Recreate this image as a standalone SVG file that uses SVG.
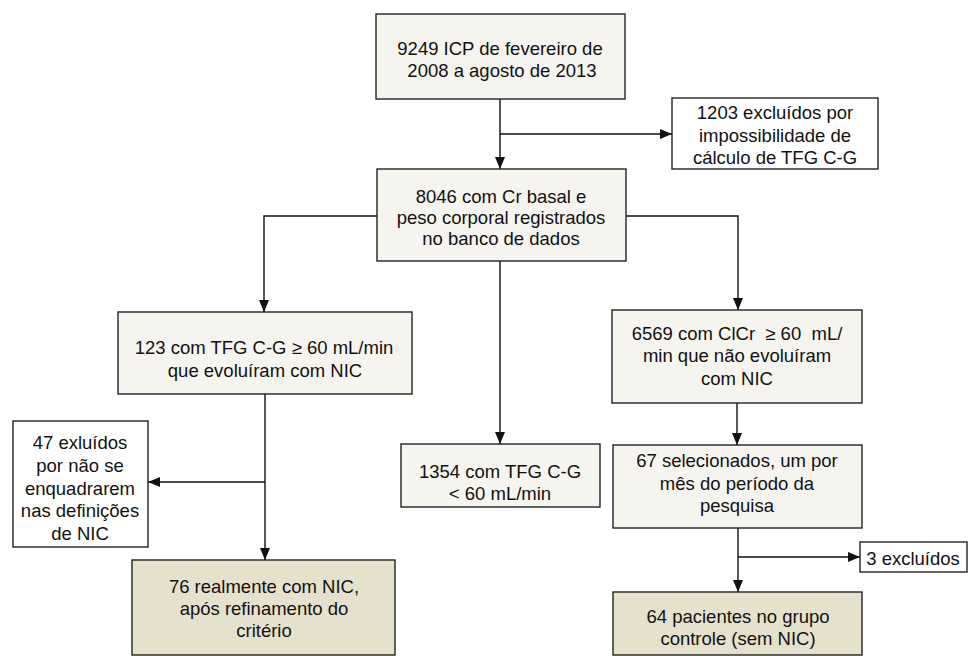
<svg xmlns="http://www.w3.org/2000/svg" width="968" height="656" viewBox="0 0 968 656">
<style>
.b{fill:#f6f4ee;stroke:#222;stroke-width:1.4}
.d{fill:#e6e1cd;stroke:#222;stroke-width:1.4}
.w{fill:#fff;stroke:#222;stroke-width:1.4}
text{font-family:"Liberation Sans",Arial,Helvetica,sans-serif;font-size:18.5px;fill:#111;text-anchor:middle;white-space:pre}
.c line,.c polyline{fill:none;stroke:#111;stroke-width:1.4}
</style>
<defs>
<marker id="ah" viewBox="0 0 12 12" refX="12" refY="6" markerWidth="12" markerHeight="12" markerUnits="userSpaceOnUse" orient="auto">
<path d="M0,1 L12,6 L0,11 Z" fill="#111"/>
</marker>
</defs>
<rect width="968" height="656" fill="#fff"/>
<g class="c">
<line x1="500" y1="99" x2="500" y2="169" marker-end="url(#ah)"/>
<line x1="500" y1="134" x2="672" y2="134" marker-end="url(#ah)"/>
<polyline points="377,216 264,216 264,312" marker-end="url(#ah)"/>
<polyline points="626,216 738,216 738,310" marker-end="url(#ah)"/>
<line x1="500" y1="261" x2="500" y2="444" marker-end="url(#ah)"/>
<line x1="265" y1="394" x2="265" y2="560" marker-end="url(#ah)"/>
<line x1="265" y1="482" x2="148" y2="482" marker-end="url(#ah)"/>
<line x1="737" y1="403" x2="737" y2="445" marker-end="url(#ah)"/>
<line x1="738" y1="528" x2="738" y2="592" marker-end="url(#ah)"/>
<line x1="738" y1="557" x2="860" y2="557" marker-end="url(#ah)"/>
</g>
<g id="n1"><rect class="b" x="376" y="14" width="249" height="85"/>
<text x="500" y="55">9249 ICP de fevereiro de</text><text x="502" y="77">2008 a agosto de 2013</text></g>
<g id="n2"><rect class="w" x="672" y="98" width="206" height="71"/>
<text x="775" y="119">1203 excluídos por</text><text x="775" y="142">impossibilidade de</text><text x="775" y="164">cálculo de TFG C-G</text></g>
<g id="n3"><rect class="b" x="377" y="169" width="249" height="92"/>
<text x="501" y="203">8046 com Cr basal e</text><text x="501" y="224">peso corporal registrados</text><text x="501" y="245">no banco de dados</text></g>
<g id="n4"><rect class="b" x="118" y="312" width="294" height="82"/>
<text x="264" y="354">123 com TFG C-G ≥ 60 mL/min</text><text x="265" y="377">que evoluíram com NIC</text></g>
<g id="n5"><rect class="b" x="612" y="310" width="250" height="93"/>
<text x="737" y="340">6569 com ClCr  ≥ 60  mL/</text><text x="737" y="362">min que não evoluíram</text><text x="737" y="385">com NIC</text></g>
<g id="n6"><rect class="w" x="13" y="421" width="135" height="126"/>
<text x="80" y="449">47 exluídos</text><text x="80" y="472">por não se</text><text x="80" y="495">enquadrarem</text><text x="80" y="517">nas definições</text><text x="80" y="540">de NIC</text></g>
<g id="n7"><rect class="b" x="401" y="444" width="199" height="63"/>
<text x="500" y="478">1354 com TFG C-G</text><text x="500" y="500">&lt; 60 mL/min</text></g>
<g id="n8"><rect class="b" x="613" y="445" width="249" height="83"/>
<text x="737" y="467">67 selecionados, um por</text><text x="737" y="490">mês do período da</text><text x="737" y="512">pesquisa</text></g>
<g id="n9"><rect class="w" x="860" y="542" width="107" height="30"/>
<text x="913" y="565">3 excluídos</text></g>
<g id="n10"><rect class="d" x="132" y="560" width="263" height="95"/>
<text x="264" y="593">76 realmente com NIC,</text><text x="264" y="615">após refinamento do</text><text x="264" y="637">critério</text></g>
<g id="n11"><rect class="d" x="613" y="592" width="249" height="63"/>
<text x="738" y="623">64 pacientes no grupo</text><text x="738" y="645">controle (sem NIC)</text></g>
</svg>
